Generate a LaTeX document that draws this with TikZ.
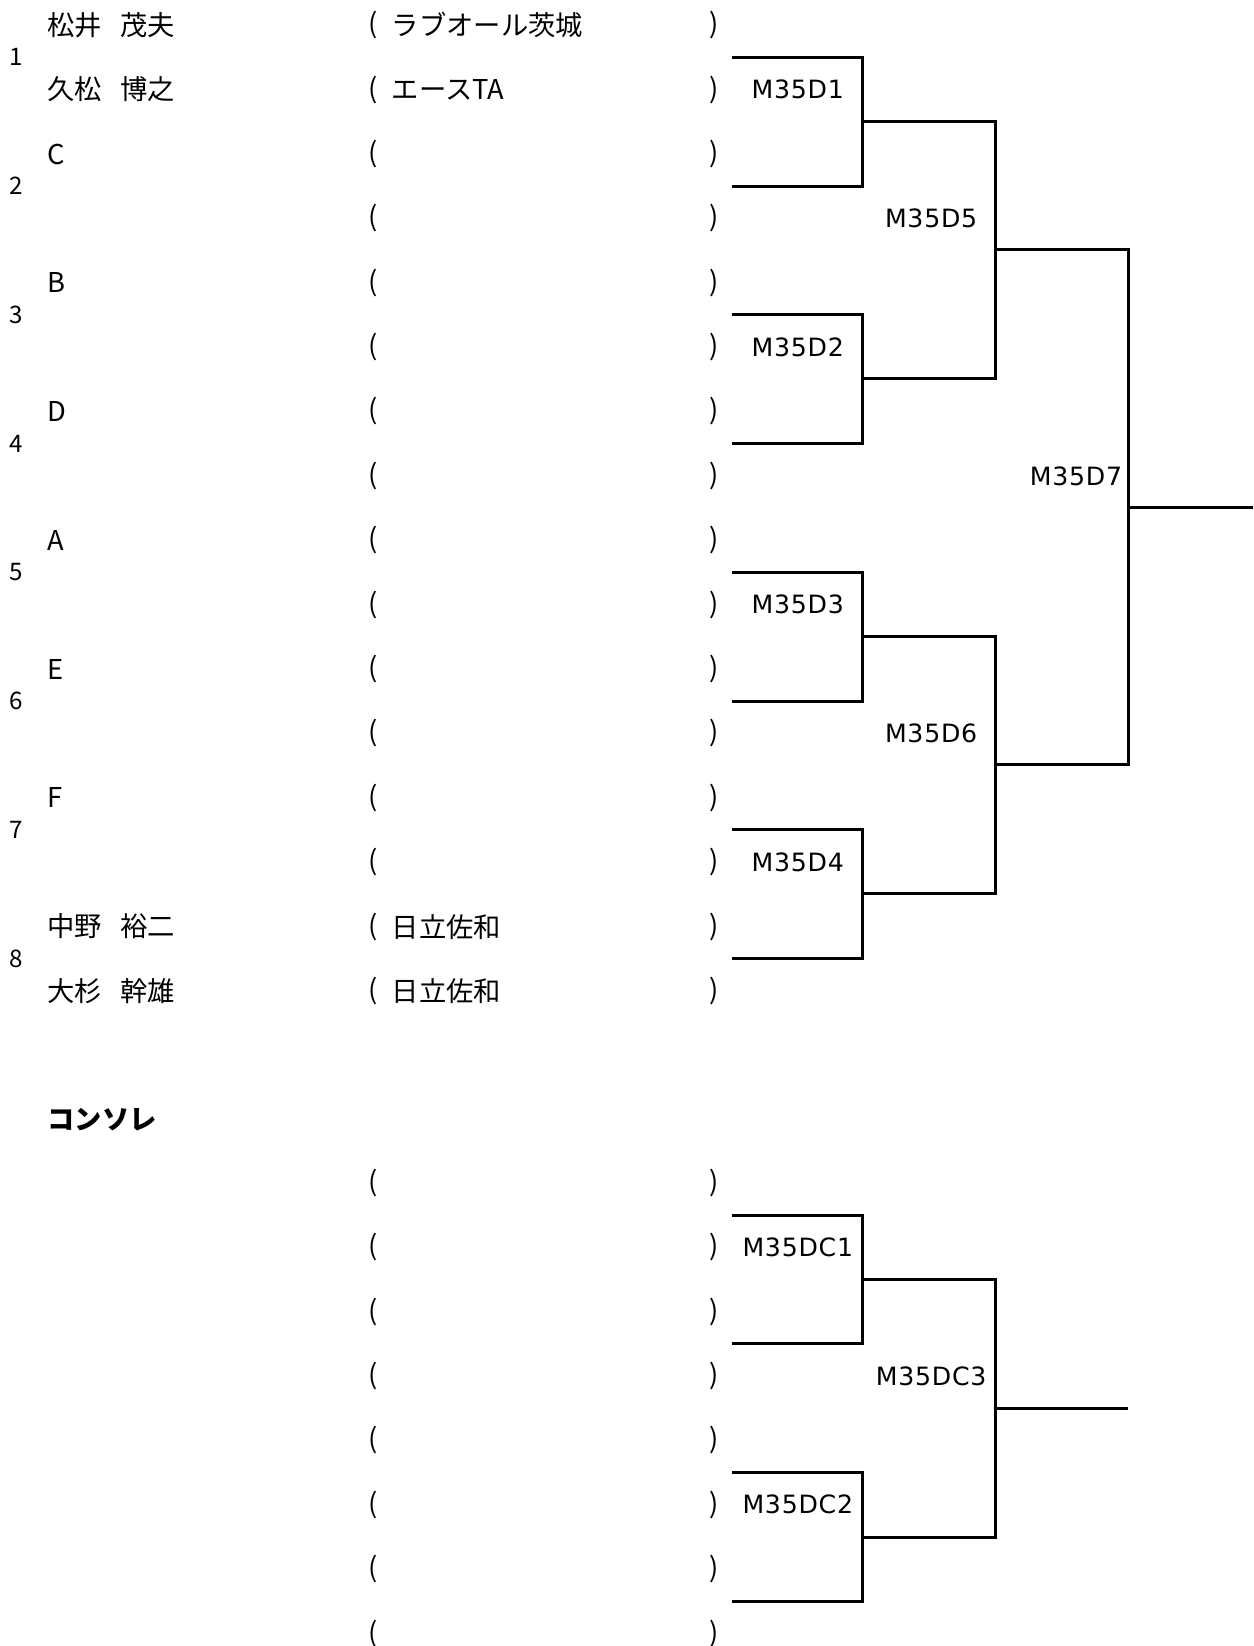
\documentclass[tikz,border=0pt]{standalone}
\usepackage{fontspec}
\setmainfont{Noto Sans CJK JP}
\newfontfamily\namefont{Noto Sans CJK JP}[WordSpace=3]
\newfontfamily\latinfont{DejaVu Sans}[LetterSpace=3]

\begin{document}
\begin{tikzpicture}[x=1pt,y=-1pt,line width=2.8pt]
\tikzstyle{every node}=[inner sep=0pt]
\tikzstyle{player}=[anchor=west, font=\namefont\fontsize{26}{30}\selectfont]
\tikzstyle{club}=[anchor=west, font=\fontsize{26}{30}\selectfont]
\tikzstyle{paren}=[font=\fontsize{26}{30}\selectfont]
\tikzstyle{seed}=[font=\fontsize{23}{28}\selectfont]
\tikzstyle{match}=[font=\latinfont\fontsize{24}{28}\selectfont]
\tikzstyle{heading}=[anchor=west, font=\bfseries\fontsize{26}{30}\selectfont]

\useasboundingbox (0,0) rectangle (1194,1568);

% main draw: rows
\foreach \i in {0,...,15} {
  \node[paren] (ol\i) at (355, {24+61.33*\i}) {(};
  \node[paren] (cl\i) at (680, {24+61.33*\i}) {)};
}
\foreach \k in {1,...,8} {
  \node[seed] (s\k) at (15, {24+61.33*(2*\k-1.5)}) {\k};
  \coordinate (e\k) at (697, {24+61.33*(2*\k-1.5)});
}

\node[player] (p0) at (44, 24) {松井 茂夫};
\node[player] (p1) at (44, 85.3) {久松 博之};
\node[player] (p2) at (44, 146.7) {C};
\node[player] (p4) at (44, 269.3) {B};
\node[player] (p6) at (44, 392) {D};
\node[player] (p8) at (44, 514.7) {A};
\node[player] (p10) at (44, 637.3) {E};
\node[player] (p12) at (44, 760) {F};
\node[player] (p14) at (44, 882.7) {中野 裕二};
\node[player] (p15) at (44, 944) {大杉 幹雄};

\node[club] (c0) at (372, 24) {ラブオール茨城};
\node[club] (c1) at (372, 85.3) {エースTA};
\node[club] (c14) at (372, 882.7) {日立佐和};
\node[club] (c15) at (372, 944) {日立佐和};

% match points
\coordinate (m1) at (822, 115.3);
\coordinate (m2) at (822, 360.7);
\coordinate (m3) at (822, 606);
\coordinate (m4) at (822, 851.3);
\coordinate (m5) at (948, 238);
\coordinate (m6) at (948, 728.7);
\coordinate (m7) at (1075, 483.3);
\coordinate (fin) at (1194, 483.3);

\draw (e1) -| (m1) |- (e2);
\draw (e3) -| (m2) |- (e4);
\draw (e5) -| (m3) |- (e6);
\draw (e7) -| (m4) |- (e8);
\draw (m1) -| (m5) |- (m2);
\draw (m3) -| (m6) |- (m4);
\draw (m5) -| (m7) |- (m6);
\draw (m7) -- (fin);

\node[match] (d1) at (760, 85.3) {M35D1};
\node[match] (d2) at (760, 330.7) {M35D2};
\node[match] (d3) at (760, 576) {M35D3};
\node[match] (d4) at (760, 821.3) {M35D4};
\node[match] (d5) at (887, 208) {M35D5};
\node[match] (d6) at (887, 698.7) {M35D6};
\node[match] (d7) at (1025, 453.3) {M35D7};

% consolation
\node[heading] (cons) at (44, 1067) {コンソレ};
\foreach \j in {0,...,7} {
  \node[paren] (col\j) at (355, {1127+61.3*\j}) {(};
  \node[paren] (ccl\j) at (680, {1127+61.3*\j}) {)};
}
\foreach \k in {1,...,4}
  \coordinate (ce\k) at (697, {1127+61.3*(2*\k-1.5)});

\coordinate (cm1) at (822, 1219);
\coordinate (cm2) at (822, 1464.2);
\coordinate (cm3) at (948, 1341.6);
\coordinate (cfin) at (1075, 1341.6);

\draw (ce1) -| (cm1) |- (ce2);
\draw (ce3) -| (cm2) |- (ce4);
\draw (cm1) -| (cm3) |- (cm2);
\draw (cm3) -- (cfin);

\node[match] (dc1) at (760, 1188.3) {M35DC1};
\node[match] (dc2) at (760, 1433.5) {M35DC2};
\node[match] (dc3) at (887, 1310.9) {M35DC3};

\end{tikzpicture}
\end{document}
